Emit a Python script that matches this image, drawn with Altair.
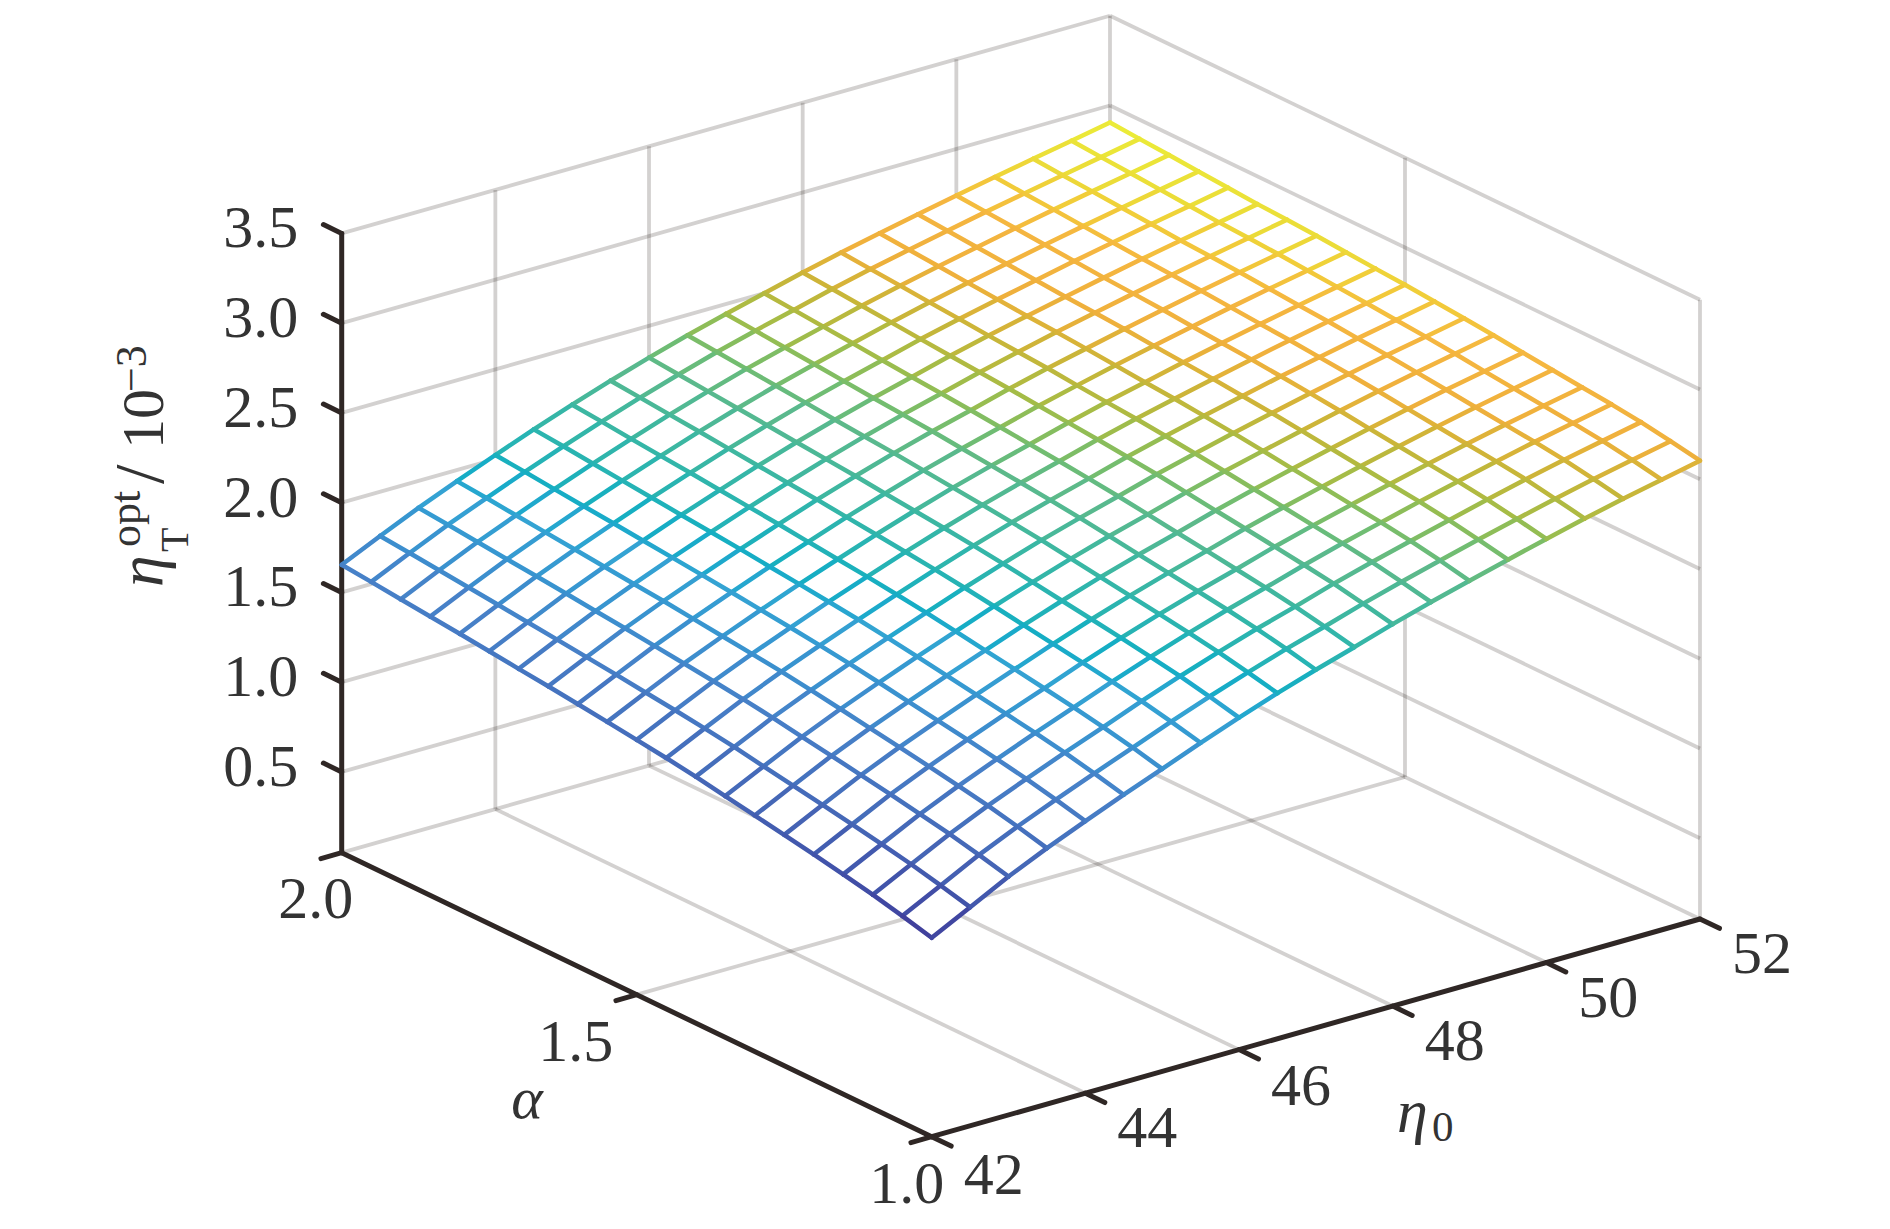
import numpy as np
import pandas as pd
import altair as alt

# ---------- data ----------
alpha_values = [2.0, 1.95, 1.9, 1.85, 1.8, 1.75, 1.7, 1.65, 1.6, 1.55, 1.5,
                1.45, 1.4, 1.35, 1.3, 1.25, 1.2, 1.15, 1.1, 1.05, 1.0]
eta_values = [42, 42.5, 43, 43.5, 44, 44.5, 45, 45.5, 46, 46.5, 47,
              47.5, 48, 48.5, 49, 49.5, 50, 50.5, 51, 51.5, 52]
eta_t_opt = [
 [1.654,1.754,1.850,1.938,2.023,2.105,2.182,2.255,2.323,2.387,2.445,2.500,2.555,2.605,2.652,2.697,2.741,2.783,2.824,2.864,2.905],
 [1.638,1.738,1.835,1.923,2.008,2.090,2.167,2.240,2.308,2.373,2.431,2.486,2.542,2.592,2.639,2.684,2.729,2.771,2.812,2.852,2.893],
 [1.620,1.721,1.818,1.906,1.991,2.073,2.150,2.224,2.293,2.358,2.416,2.472,2.528,2.579,2.626,2.672,2.717,2.760,2.801,2.841,2.882],
 [1.603,1.704,1.801,1.890,1.975,2.057,2.134,2.209,2.278,2.343,2.402,2.458,2.514,2.565,2.613,2.659,2.704,2.747,2.789,2.829,2.870],
 [1.586,1.687,1.785,1.874,1.959,2.041,2.119,2.193,2.263,2.328,2.387,2.443,2.500,2.552,2.600,2.646,2.692,2.735,2.777,2.817,2.858],
 [1.568,1.669,1.768,1.857,1.942,2.024,2.102,2.177,2.247,2.312,2.372,2.429,2.486,2.538,2.587,2.633,2.679,2.723,2.765,2.805,2.846],
 [1.549,1.651,1.750,1.840,1.926,2.008,2.086,2.161,2.232,2.298,2.359,2.416,2.474,2.526,2.576,2.623,2.669,2.714,2.756,2.797,2.838],
 [1.531,1.633,1.733,1.824,1.909,1.992,2.070,2.146,2.217,2.284,2.345,2.402,2.461,2.514,2.563,2.612,2.658,2.703,2.746,2.787,2.828],
 [1.511,1.614,1.714,1.805,1.891,1.973,2.051,2.128,2.199,2.267,2.328,2.386,2.445,2.498,2.549,2.597,2.644,2.690,2.733,2.774,2.815],
 [1.491,1.594,1.695,1.786,1.872,1.955,2.033,2.110,2.182,2.250,2.312,2.370,2.430,2.484,2.534,2.584,2.631,2.677,2.720,2.762,2.803],
 [1.470,1.574,1.675,1.767,1.853,1.936,2.015,2.092,2.165,2.233,2.296,2.355,2.415,2.470,2.521,2.571,2.619,2.665,2.709,2.750,2.792],
 [1.448,1.552,1.654,1.747,1.833,1.916,1.995,2.073,2.146,2.215,2.278,2.337,2.398,2.453,2.505,2.555,2.604,2.650,2.694,2.736,2.778],
 [1.423,1.528,1.631,1.723,1.810,1.893,1.973,2.051,2.125,2.195,2.258,2.318,2.380,2.435,2.488,2.539,2.588,2.635,2.680,2.722,2.764],
 [1.394,1.499,1.603,1.697,1.784,1.867,1.947,2.027,2.101,2.171,2.236,2.296,2.358,2.415,2.468,2.520,2.570,2.618,2.663,2.706,2.748],
 [1.365,1.471,1.576,1.670,1.757,1.841,1.921,2.001,2.076,2.147,2.212,2.273,2.336,2.394,2.447,2.500,2.550,2.599,2.645,2.687,2.730],
 [1.336,1.443,1.548,1.643,1.730,1.814,1.895,1.976,2.052,2.123,2.189,2.251,2.315,2.373,2.427,2.480,2.531,2.580,2.627,2.670,2.713],
 [1.306,1.413,1.520,1.615,1.703,1.787,1.868,1.950,2.027,2.099,2.166,2.228,2.293,2.351,2.406,2.460,2.512,2.562,2.609,2.653,2.696],
 [1.274,1.382,1.489,1.585,1.674,1.759,1.841,1.923,2.001,2.074,2.142,2.205,2.270,2.330,2.386,2.441,2.493,2.544,2.592,2.636,2.680],
 [1.240,1.349,1.457,1.554,1.643,1.728,1.810,1.894,1.972,2.046,2.115,2.178,2.245,2.305,2.362,2.417,2.471,2.523,2.571,2.616,2.660],
 [1.201,1.310,1.420,1.517,1.606,1.692,1.775,1.859,1.938,2.012,2.082,2.146,2.213,2.274,2.332,2.388,2.442,2.494,2.543,2.589,2.633],
 [1.158,1.268,1.378,1.476,1.566,1.652,1.735,1.820,1.900,1.975,2.045,2.110,2.178,2.240,2.298,2.355,2.410,2.463,2.512,2.558,2.603],
]
z_ticks = [0.5, 1.0, 1.5, 2.0, 2.5, 3.0, 3.5]
z_labels = ["0.5", "1.0", "1.5", "2.0", "2.5", "3.0", "3.5"]
alpha_ticks = [2.0, 1.5, 1.0]
alpha_labels = ["2.0", "1.5", "1.0"]
eta_ticks = [42, 44, 46, 48, 50, 52]
eta_labels = ["42", "44", "46", "48", "50", "52"]

# colour ramp as seen on the mesh
ramp_z = [1.16, 1.40, 1.65, 1.90, 2.05, 2.30, 2.45, 2.55, 2.62, 2.72, 2.82, 2.90]
ramp_c = ["#403D9A", "#4565B5", "#4781C8", "#34A3D3", "#25B3B6", "#5BB98C",
          "#A3BC48", "#CFB438", "#EFB03C", "#F5B640", "#EBDC38", "#EBEB38"]

# ---------- orthographic view of the box ----------
Z_LOW, Z_HIGH = 0.05, 3.5
ALPHA_HI, ALPHA_LO = 2.0, 1.0
ETA_LO, ETA_HI = 42, 52


def sx(a, e):
    return 341.7 + (2.0 - a) * 590.0 + (e - 42) * 76.83


def sy(a, e, z):
    return 852.7 + (2.0 - a) * 284.0 - (e - 42) * 21.77 - (z - Z_LOW) * 179.5


def seg(a0, e0, z0, a1, e1, z1):
    return dict(x=sx(a0, e0), y=sy(a0, e0, z0), x2=sx(a1, e1), y2=sy(a1, e1, z1))


W, H = 1874, 1210
X = alt.X("x:Q", axis=None, scale=alt.Scale(domain=[8, 8 + W], range=[0, W], nice=False, zero=False))
Y = alt.Y("y:Q", axis=None, scale=alt.Scale(domain=[8 + H, 8], range=[H, 0], nice=False, zero=False))

# grid
grid = []
for z in [Z_LOW] + z_ticks:
    grid.append(seg(ALPHA_HI, ETA_LO, z, ALPHA_HI, ETA_HI, z))
    grid.append(seg(ALPHA_HI, ETA_HI, z, ALPHA_LO, ETA_HI, z))
for e in eta_ticks[1:]:
    grid.append(seg(ALPHA_HI, e, Z_LOW, ALPHA_HI, e, Z_HIGH))
    if e != ETA_HI:
        grid.append(seg(ALPHA_LO, e, Z_LOW, ALPHA_HI, e, Z_LOW))
grid.append(seg(1.5, ETA_HI, Z_LOW, 1.5, ETA_HI, Z_HIGH))
grid.append(seg(ALPHA_LO, ETA_HI, Z_LOW, ALPHA_LO, ETA_HI, Z_HIGH))
grid.append(seg(1.5, ETA_LO, Z_LOW, 1.5, ETA_HI, Z_LOW))
grid_layer = alt.Chart(pd.DataFrame(grid)).mark_rule(
    color="#231815", opacity=0.2, strokeWidth=3.8
).encode(x=X, y=Y, x2="x2:Q", y2="y2:Q")

# axes and ticks
axis_rows = [
    seg(ALPHA_HI, ETA_LO, Z_LOW, ALPHA_HI, ETA_LO, Z_HIGH),
    seg(ALPHA_HI, ETA_LO, Z_LOW, ALPHA_LO, ETA_LO, Z_LOW),
    seg(ALPHA_LO, ETA_LO, Z_LOW, ALPHA_LO, ETA_HI, Z_LOW),
]
for z in z_ticks:
    axis_rows.append(seg(ALPHA_HI, ETA_LO, z, ALPHA_HI + 0.031, ETA_LO, z))
for a in alpha_ticks:
    axis_rows.append(seg(a, ETA_LO, Z_LOW, a, ETA_LO - 0.27, Z_LOW))
for e in eta_ticks:
    axis_rows.append(seg(ALPHA_LO, e, Z_LOW, ALPHA_LO - 0.033, e, Z_LOW))
axis_layer = alt.Chart(pd.DataFrame(axis_rows)).mark_rule(
    color="#2F2725", strokeWidth=5.0, strokeCap="round"
).encode(x=X, y=Y, x2="x2:Q", y2="y2:Q")

# white faces of the surface hide the grid behind them
Zm = np.array(eta_t_opt)
na, ne = Zm.shape
lower = [(sx(alpha_values[i], eta_values[0]), sy(alpha_values[i], eta_values[0], Zm[i, 0])) for i in range(na)] + \
        [(sx(alpha_values[-1], eta_values[j]), sy(alpha_values[-1], eta_values[j], Zm[-1, j])) for j in range(1, ne)]
upper = [(sx(alpha_values[0], eta_values[j]), sy(alpha_values[0], eta_values[j], Zm[0, j])) for j in range(ne)] + \
        [(sx(alpha_values[i], eta_values[-1]), sy(alpha_values[i], eta_values[-1], Zm[i, -1])) for i in range(1, na)]
lower = np.array(lower)
upper = np.array(upper)
xs = np.arange(lower[0, 0], lower[-1, 0] + 1.0, 1.0)
face = pd.DataFrame({
    "x": xs,
    "y": np.interp(xs, upper[:, 0], upper[:, 1]),
    "y2": np.interp(xs, lower[:, 0], lower[:, 1]),
})
# one white vertical stroke per pixel column between the two silhouette edges
face_layer = alt.Chart(face).mark_rule(color="#ffffff", strokeWidth=1.6, opacity=1).encode(
    x=X, y=Y, y2="y2:Q")

# mesh
mesh = []
for i in range(na):
    for j in range(ne):
        a, e, z = alpha_values[i], eta_values[j], Zm[i, j]
        if j + 1 < ne:
            r = seg(a, e, z, a, eta_values[j + 1], Zm[i, j + 1])
            r["z"] = (z + Zm[i, j + 1]) / 2
            mesh.append(r)
        if i + 1 < na:
            r = seg(a, e, z, alpha_values[i + 1], e, Zm[i + 1, j])
            r["z"] = (z + Zm[i + 1, j]) / 2
            mesh.append(r)
mesh_layer = alt.Chart(pd.DataFrame(mesh)).mark_rule(strokeWidth=4.5, strokeCap="round").encode(
    x=X, y=Y, x2="x2:Q", y2="y2:Q",
    color=alt.Color("z:Q", legend=None, scale=alt.Scale(domain=ramp_z, range=ramp_c)),
)

# tick labels
FONT = "Liberation Serif"
INK = "#333333"
TICK_SIZE = 60
rows = []
for z, t in zip(z_ticks, z_labels):
    rows.append(dict(x=sx(ALPHA_HI, ETA_LO) - 81, y=sy(ALPHA_HI, ETA_LO, z) - 4, t=t))
for a, t, dx, dy in zip(alpha_ticks, alpha_labels, [-26, -61, -25], [47, 48, 48]):
    rows.append(dict(x=sx(a, ETA_LO) + dx, y=sy(a, ETA_LO, Z_LOW) + dy, t=t))
for e, t, dy in zip(eta_ticks, eta_labels, [39, 36, 37, 36, 36, 36]):
    rows.append(dict(x=sx(ALPHA_LO, e) + 62, y=sy(ALPHA_LO, e, Z_LOW) + dy, t=t))
tick_text = alt.Chart(pd.DataFrame(rows)).mark_text(
    font=FONT, fontSize=TICK_SIZE, color=INK, align="center", baseline="middle"
).encode(x=X, y=Y, text="t:N")


def label(text, x, y, size, angle=0, italic=False, baseline="alphabetic", align="left"):
    kw = dict(font=FONT, fontSize=size, color=INK, align=align, baseline=baseline)
    if angle:
        kw["angle"] = angle
    if italic:
        kw["fontStyle"] = "italic"
    return alt.Chart(pd.DataFrame({"x": [x], "y": [y], "t": [text]})).mark_text(**kw).encode(x=X, y=Y, text="t:N")


titles = [
    label("α", 527, 1118, 60, italic=True, align="center"),
    label("η", 1397, 1132, 62, italic=True),
    label("0", 1432, 1141, 43),
    # rotated z title
    label("η", 162, 587, 64, angle=270, italic=True),
    label("T", 188, 552, 40, angle=270),
    label("opt", 140, 547, 44, angle=270),
    label("/", 163, 484, 70, angle=270),
    label("10", 163, 449, 60, angle=270),
    label("−3", 146, 392, 44, angle=270),
]

chart = alt.layer(grid_layer, axis_layer, face_layer, mesh_layer, tick_text, *titles).properties(
    width=W, height=H, padding=0, background="white",
    autosize=alt.AutoSizeParams(type="none"),
).configure_view(stroke=None)

chart.save("out.html", embed_options={"renderer": "svg", "actions": False})
